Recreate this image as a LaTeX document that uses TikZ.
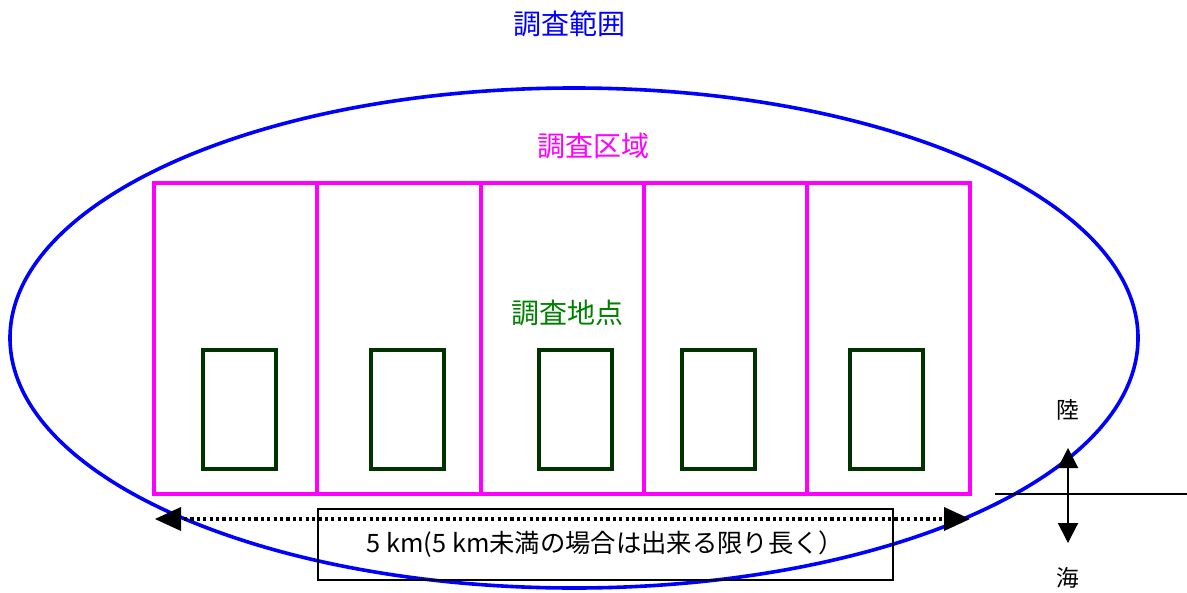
\documentclass[tikz,border=0pt]{standalone}
\usepackage{fontspec}
\setmainfont{Noto Sans CJK JP}
\usetikzlibrary{arrows.meta}
\definecolor{rangeblue}{HTML}{0000FF}
\definecolor{areamag}{HTML}{FF00FF}
\definecolor{ptgreen}{HTML}{008000}
\definecolor{ptdark}{HTML}{003300}
\begin{document}
\begin{tikzpicture}[x=0.75pt,y=-0.75pt,
  lbl/.style={inner sep=0pt,font=\fontsize{21}{21}\selectfont},
  cell/.style={draw=areamag,line width=2.6pt},
  pointbox/.style={draw=ptdark,line width=3pt},
]
\useasboundingbox (0,0) rectangle (1187,592);
% survey range ellipse
\draw[rangeblue,line width=2.7pt] (574,338) ellipse [x radius=564, y radius=250];
\node[lbl,text=rangeblue] (range) at (569,24) {調査範囲};
% survey area
\node[lbl,text=areamag] (area) at (593,146) {調査区域};
\foreach \a/\b in {154/317,317/481,481/644,644/807,807/970}{
  \draw[cell] (\a,183) rectangle (\b,494);
}
% survey points
\node[lbl,text=ptgreen] (pts) at (567,313) {調査地点};
\foreach \a in {203,371,539,682,850}{
  \draw[pointbox] (\a,350) rectangle ++(73,119);
}
% length box
\node[draw,line width=1.1pt,minimum width=431pt,minimum height=53pt,inner sep=0pt,
  font=\fontsize{19}{19}\selectfont] (len) at (605.5,544.5) {5 km(5 km未満の場合は出来る限り長く）};
\coordinate (la) at (155,519);
\coordinate (ra) at (970,519);
\draw[line width=2.4pt,dash pattern=on 2.4pt off 2.4pt,shorten <=17pt,shorten >=17pt] (la) -- (ra);
\draw[line width=0pt,draw=none,fill=black] (la) -- ++(26,-12) -- ++(0,24) -- cycle;
\draw[line width=0pt,draw=none,fill=black] (ra) -- ++(-26,-12) -- ++(0,24) -- cycle;
% land / sea
\coordinate (s1) at (995,494);
\coordinate (s2) at (1187,494);
\draw[line width=1.1pt] (s1) -- (s2);
\coordinate (up) at (1068,448);
\coordinate (dn) at (1068,543);
\draw[line width=1.5pt,{Triangle[length=15pt,width=15pt]}-{Triangle[length=15pt,width=15pt]}] (up) -- (dn);
\node[lbl,font=\fontsize{17}{17}\selectfont] (land) at (1068,410) {陸};
\node[lbl,font=\fontsize{17}{17}\selectfont] (sea) at (1068,578) {海};
\end{tikzpicture}
\end{document}
